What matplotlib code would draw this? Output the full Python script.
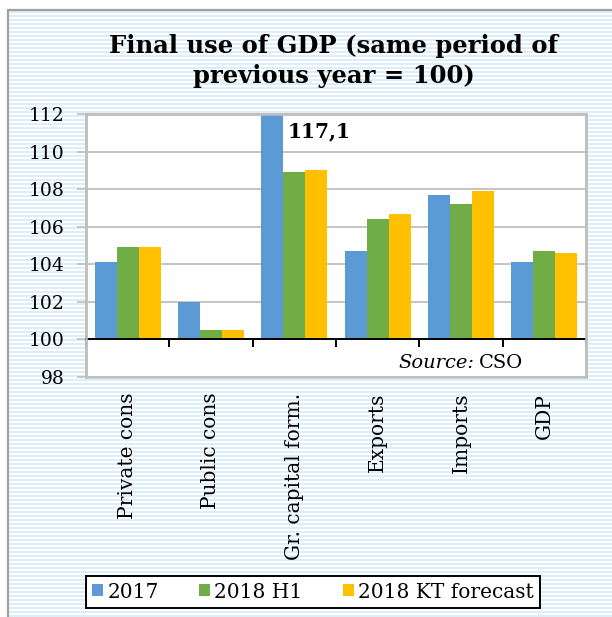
import matplotlib
matplotlib.use("Agg")
import matplotlib.pyplot as plt
import numpy as np
from matplotlib.patches import Rectangle, Patch
from matplotlib.transforms import blended_transform_factory

plt.rcParams['font.family'] = ['DejaVu Serif']

categories = ["Private cons", "Public cons", "Gr. capital form.", "Exports", "Imports", "GDP"]
series_names = ["2017", "2018 H1", "2018 KT forecast"]
v2017 = [104.1, 102.0, 117.1, 104.7, 107.7, 104.1]
v2018h1 = [104.9, 100.5, 108.9, 106.4, 107.2, 104.7]
v2018kt = [104.9, 100.5, 109.0, 106.7, 107.9, 104.6]
yticks = [98, 100, 102, 104, 106, 108, 110, 112]
colors = ["#5B9BD5", "#70AD47", "#FFC000"]

W, H = 612, 617
fig = plt.figure(figsize=(W / 100, H / 100), dpi=100)
fig.patch.set_facecolor("white")

# striped background
bg = fig.add_axes([0, 0, 1, 1], zorder=-5)
bg.set_xlim(0, W)
bg.set_ylim(H, 0)
bg.axis("off")
for y in np.arange(11, H, 4):
    bg.axhspan(y, y + 2, xmin=9 / W, xmax=1, color="#DCEEF7", lw=0)
fig.patches.append(Rectangle((8 / W, -0.1), 1.2, (H - 10) / H + 0.1,
                             transform=fig.transFigure, fill=False,
                             edgecolor="#A0A0A0", lw=1.6, zorder=-4))

ax = fig.add_axes([86 / W, (H - 377) / H, 500 / W, 263 / H])
ax.set_facecolor("white")
x = np.arange(len(categories))
bw = 0.265
for i, (vals, c, name) in enumerate(zip([v2017, v2018h1, v2018kt], colors, series_names)):
    heights = [v - 100 for v in vals]
    ax.bar(x + (i - 1) * bw, heights, width=bw, bottom=100, color=c, label=name, zorder=3)

ax.set_xlim(-0.5, len(categories) - 0.5)
ax.set_ylim(98, 112)
ax.set_yticks(yticks)
ax.set_yticklabels([str(t) for t in yticks], fontsize=13.5)
ax.yaxis.grid(True, color="#BFBFBF", lw=1.3, zorder=0)
ax.tick_params(axis="y", direction="out", length=6.5, width=1.2, color="#BFBFBF", pad=9)

for s in ["top", "left", "right"]:
    ax.spines[s].set_color("#BFBFBF")
    ax.spines[s].set_linewidth(1.8)
ax.spines["bottom"].set_position(("data", 100))
ax.spines["bottom"].set_color("black")
ax.spines["bottom"].set_linewidth(1.4)
ax.spines["bottom"].set_zorder(4)
ax.set_xticks(np.arange(-0.5, len(categories), 1.0))
ax.set_xticklabels([])
ax.tick_params(axis="x", direction="out", length=6, width=1.4, color="black")
ax.add_patch(Rectangle((0, 0), 1, 1, transform=ax.transAxes, fill=False,
                       edgecolor="#BFBFBF", lw=1.8, zorder=5, clip_on=False))

trans = blended_transform_factory(ax.transData, ax.transAxes)
for xi, cat in zip(x, categories):
    ax.text(xi, -0.06, cat, transform=trans, rotation=90, ha="center", va="top", fontsize=14.5)

ax.text(1.924, 111.05, "117,1", fontsize=14.5, fontweight="bold", ha="left", va="center", zorder=6)
ax.text(0.776, 98.72, "Source:", style="italic", fontsize=14, ha="right", va="center",
        transform=blended_transform_factory(ax.transAxes, ax.transData))
ax.text(0.786, 98.72, "CSO", fontsize=14, ha="left", va="center",
        transform=blended_transform_factory(ax.transAxes, ax.transData))

fig.text(334 / W, (H - 61) / H, "Final use of GDP (same period of\nprevious year = 100)",
         ha="center", va="center", fontsize=17.5, fontweight="bold", linespacing=1.3)

handles = [Patch(facecolor=c, edgecolor="none") for c in colors]
leg = fig.legend(handles, series_names, loc="center", bbox_to_anchor=(313 / W, (H - 592) / H),
                 bbox_transform=fig.transFigure, ncol=3, fontsize=14.5, frameon=True,
                 fancybox=False, framealpha=1, edgecolor="black", handlelength=0.55,
                 handleheight=0.55, handletextpad=0.2, columnspacing=2.0, borderpad=0.3,
                 borderaxespad=0)
leg.get_frame().set_linewidth(1.4)

fig.savefig("out.png", dpi=100)
